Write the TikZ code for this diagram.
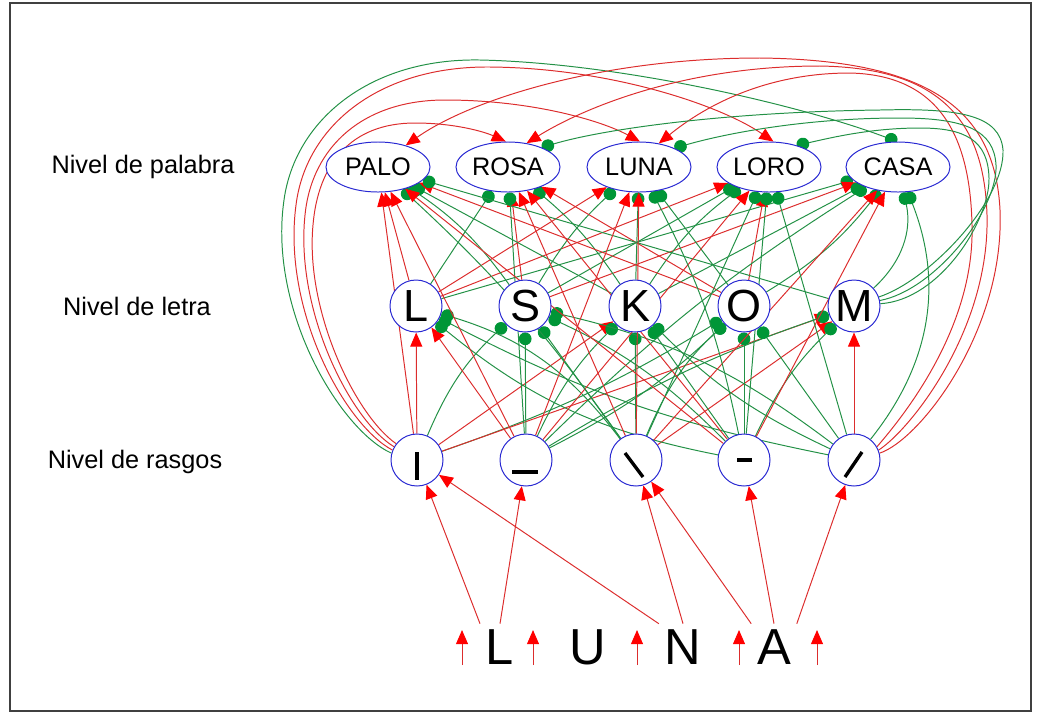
\documentclass[tikz,border=0pt]{standalone}
\usepackage{fontspec}
\setmainfont{Liberation Sans}
\usetikzlibrary{arrows.meta, shapes.geometric, backgrounds}

\definecolor{azul}{RGB}{40,40,210}
\definecolor{rojo}{RGB}{220,45,45}
\definecolor{verde}{RGB}{35,145,70}
\definecolor{verdepunto}{RGB}{0,150,55}

\tikzset{
  palabra/.style={ellipse, draw=azul, fill=white, line width=0.7pt,
    minimum width=2.6cm, minimum height=1.25cm, inner sep=0pt,
    font=\fontsize{18}{20}\selectfont},
  letra/.style={circle, draw=azul, fill=white, line width=0.7pt,
    minimum size=1.3cm, inner sep=0pt, font=\fontsize{32}{34}\selectfont},
  rasgo/.style={letra},
  nivel/.style={font=\fontsize{18}{20}\selectfont},
  entrada/.style={font=\fontsize{36}{40}\selectfont, inner sep=4pt},
  exc/.style={draw=rojo, line width=0.7pt, -{Triangle[length=10pt,width=8.5pt,color=red]}},
  inh/.style={draw=verde, line width=0.7pt, -{Circle[length=9pt,color=verdepunto]}},
  trazo/.style={line width=2.4pt}
}

\begin{document}
\begin{tikzpicture}[x=0.025cm, y=-0.025cm]
        \useasboundingbox (0,0) rectangle (1038,713);
        \draw[black!75, line width=0.8pt] (10,3) rectangle (1031,711);

        % Etiquetas de los niveles
        \node[nivel] (npal) at (143,167) {Nivel de palabra};
        \node[nivel] (nlet) at (137,306) {Nivel de letra};
        \node[nivel] (nras) at (135,462) {Nivel de rasgos};

        % Nivel de palabra
        \node[palabra] (PALO) at (378,167) {PALO};
        \node[palabra] (ROSA) at (508,167) {ROSA};
        \node[palabra] (LUNA) at (639,167) {LUNA};
        \node[palabra] (LORO) at (769,167) {LORO};
        \node[palabra] (CASA) at (898,167) {CASA};

        % Nivel de letra
        \node[letra] (L) at (416,306) {L};
        \node[letra] (S) at (525,306) {S};
        \node[letra] (K) at (635,306) {K};
        \node[letra] (O) at (744,306) {O};
        \node[letra] (M) at (854,306) {M};

        % Nivel de rasgos y sus trazos
        \node[rasgo] (f1) at (417,460) {};
        \node[rasgo] (f2) at (526,460) {};
        \node[rasgo] (f3) at (636,460) {};
        \node[rasgo] (f4) at (744,460) {};
        \node[rasgo] (f5) at (854,460) {};
        \draw[trazo] ([shift={(0,-8)}]f1.center) -- ++(0,28);
        \draw[trazo] ([shift={(-14,12)}]f2.center) -- ++(26,0);
        \draw[trazo] ([shift={(-11,-7)}]f3.center) -- ++(18,24);
        \draw[trazo] ([shift={(-7,0)}]f4.center) -- ++(15,0);
        \draw[trazo] ([shift={(8,-8)}]f5.center) -- ++(-17,25);

        % Palabra de entrada
        \node[entrada] (inL) at (500,647) {L};
        \node[entrada] (inU) at (588,647) {U};
        \node[entrada] (inN) at (683,647) {N};
        \node[entrada] (inA) at (774,647) {A};

        \begin{scope}[on background layer]
        % flechas de entrada
        \foreach \x [count=\i] in {462,533,637,739,817} {
            \coordinate (a\i) at (\x,665);
            \coordinate (b\i) at (\x,630);
            \draw[exc] (a\i) -- (b\i);
        }
        \draw[exc] (inL.north west) -- (f1);
        \draw[exc] (inL.north) -- (f2);
        \draw[exc] (inN.north west) -- (f1);
        \draw[exc] (inN.north) -- (f3);
        \draw[exc] (inA.north west) -- (f3);
        \draw[exc] (inA.north) -- (f4);
        \draw[exc] (inA.north east) -- (f5);

        % rasgos -> letras
        \foreach \s/\t/\k/\b in {
            f1/L/exc/0, f1/S/inh/12, f1/K/exc/0, f1/O/inh/-6, f1/M/exc/0,
            f2/L/exc/0, f2/S/inh/0, f2/K/inh/10, f2/O/inh/-8, f2/M/inh/6,
            f3/L/inh/-18, f3/S/inh/0, f3/K/inh/0, f3/O/inh/12, f3/M/exc/0,
            f4/L/inh/14, f4/S/inh/-10, f4/K/inh/0, f4/O/inh/0, f4/M/inh/10,
            f5/L/inh/8, f5/S/inh/-12, f5/K/inh/10, f5/O/inh/0, f5/M/exc/0}
            \draw[\k] (\s) to[bend left=\b] (\t);

        % letras -> palabras
        \foreach \s/\t/\k/\b in {
            L/PALO/exc/0, L/ROSA/inh/0, L/LUNA/exc/0, L/LORO/exc/0, L/CASA/inh/0,
            S/PALO/inh/-10, S/ROSA/exc/0, S/LUNA/inh/8, S/LORO/inh/0, S/CASA/exc/0,
            K/PALO/inh/0, K/ROSA/inh/-8, K/LUNA/inh/0, K/LORO/inh/10, K/CASA/inh/0,
            O/PALO/exc/0, O/ROSA/exc/0, O/LUNA/inh/0, O/LORO/exc/0, O/CASA/inh/-10,
            M/PALO/inh/0, M/CASA/inh/-30}
            \draw[\k] (\s) to[bend left=\b] (\t);

        % rasgos -> palabras
        \foreach \s/\t/\k/\b in {
            f1/PALO/exc/0,
            f2/PALO/exc/0, f2/ROSA/inh/0, f2/LUNA/exc/0, f2/LORO/exc/0, f2/CASA/inh/6,
            f3/PALO/inh/-6, f3/ROSA/exc/0, f3/LUNA/exc/0, f3/LORO/inh/0, f3/CASA/exc/0,
            f4/PALO/exc/0, f4/ROSA/exc/0, f4/LUNA/inh/-8, f4/LORO/inh/0, f4/CASA/exc/0,
            f5/LORO/inh/0, f5/CASA/inh/-30}
            \draw[\k] (\s) to[bend left=\b] (\t);

        % arcos por la izquierda
        \draw[inh] (f1.165) .. controls (340,430) and (268,310) .. (284,200)
            .. controls (295,120) and (370,58) .. (480,60)
            .. controls (620,63) and (800,105) .. (CASA.92);
        \draw[exc] (f1.158) .. controls (345,425) and (282,310) .. (296,205)
            .. controls (306,125) and (380,66) .. (490,67)
            .. controls (610,68) and (720,105) .. (LORO.80);
        \draw[exc] (f1.150) .. controls (350,420) and (295,310) .. (305,215)
            .. controls (312,145) and (365,100) .. (445,100)
            .. controls (530,100) and (600,120) .. (LUNA.88);
        \draw[exc] (f1.142) .. controls (355,415) and (305,310) .. (313,225)
            .. controls (318,165) and (350,123) .. (415,123)
            .. controls (455,123) and (485,132) .. (ROSA.95);

        % arcos por la derecha
        \draw[exc] (f5.15) .. controls (920,440) and (1005,330) .. (1000,210)
            .. controls (995,110) and (930,60) .. (760,58)
            .. controls (600,58) and (470,100) .. (PALO.38);
        \draw[exc] (f5.22) .. controls (910,430) and (990,330) .. (987,215)
            .. controls (984,120) and (940,68) .. (820,66)
            .. controls (680,66) and (580,110) .. (ROSA.52);
        \draw[exc] (f5.30) .. controls (900,420) and (975,330) .. (972,225)
            .. controls (970,130) and (935,75) .. (850,73)
            .. controls (760,73) and (700,110) .. (LUNA.50);
        \draw[inh] (M.20) .. controls (930,280) and (1005,200) .. (1003,150)
            .. controls (1000,115) and (960,108) .. (880,110)
            .. controls (720,112) and (600,130) .. (ROSA.30);
        \draw[inh] (M.12) .. controls (935,290) and (998,210) .. (996,165)
            .. controls (994,130) and (965,118) .. (900,118)
            .. controls (800,118) and (720,135) .. (LUNA.28);
        \draw[inh] (M.5) .. controls (940,300) and (990,220) .. (989,178)
            .. controls (988,140) and (965,128) .. (920,128)
            .. controls (870,128) and (830,138) .. (LORO.38);
        \end{scope}
\end{tikzpicture}
\end{document}
